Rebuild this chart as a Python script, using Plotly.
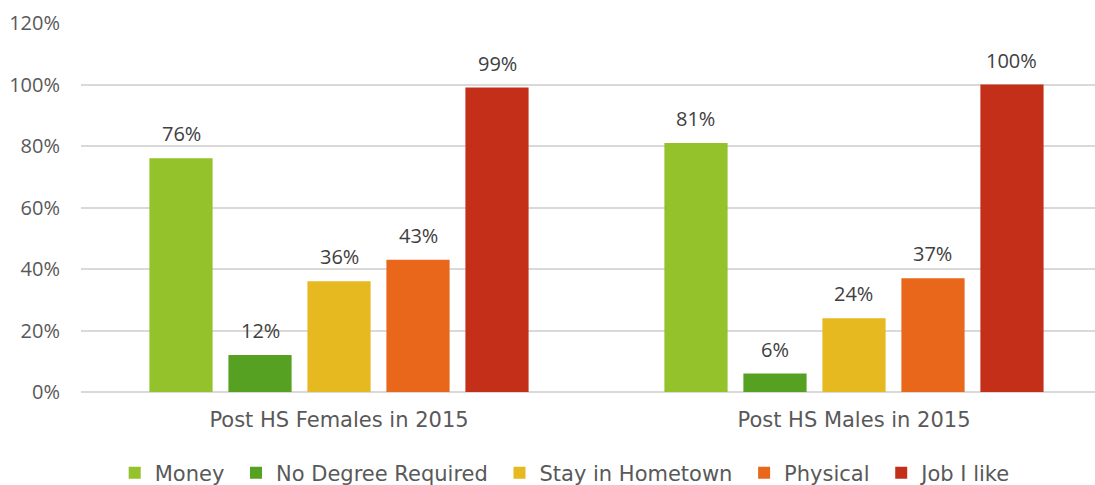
import plotly.graph_objects as go

categories = ["Post HS Females in 2015", "Post HS Males in 2015"]
series_names = ["Money", "No Degree Required", "Stay in Hometown", "Physical", "Job I like"]
money = [0.76, 0.81]
no_degree = [0.12, 0.06]
stay_home = [0.36, 0.24]
physical = [0.43, 0.37]
job_like = [0.99, 1.00]
series_values = [money, no_degree, stay_home, physical, job_like]
colors = ["#93C22A", "#56A022", "#E6B920", "#E8671A", "#C42F1A"]
y_ticks = [0, 0.2, 0.4, 0.6, 0.8, 1.0, 1.2]
y_tick_labels = ["0%", "20%", "40%", "60%", "80%", "100%", "120%"]

FONT = "Open Sans"
FONT2 = "DejaVu Sans"
BARGAP = 0.233
BARGROUPGAP = 0.2
xpos = list(range(len(categories)))
PAD = "\u00a0"

fig = go.Figure()
for k, (name, vals, col) in enumerate(zip(series_names, series_values, colors)):
    label = name + (PAD if k < len(series_names) - 1 else "")
    fig.add_trace(go.Bar(x=xpos, y=vals, name=label, marker=dict(color=col, line=dict(width=0))))

n = len(series_names)
slot = (1 - BARGAP) / n
annotations = []
for i, vals in enumerate(series_values):
    for g, v in enumerate(vals):
        annotations.append(dict(
            x=g + (i - (n - 1) / 2) * slot, y=v, xref="x", yref="y",
            text=f"{round(v*100)}%", showarrow=False, yanchor="bottom",
            yshift=9, font=dict(family=FONT, size=20, color="#404040")))

fig.update_layout(
    width=1095, height=485,
    margin=dict(l=81, r=0, t=23, b=93, autoexpand=False),
    paper_bgcolor="white", plot_bgcolor="white",
    barmode="group", bargap=BARGAP, bargroupgap=BARGROUPGAP,
    font=dict(family=FONT, size=20, color="#595959"),
    annotations=annotations,
    showlegend=True,
    legend=dict(orientation="h", x=0.478, xanchor="center", y=-0.2195, yanchor="middle",
                font=dict(family=FONT2, size=21, color="#595959"), itemwidth=30,
                traceorder="normal"),
    xaxis=dict(range=[-0.501, 1.468], tickvals=xpos, ticktext=categories,
               showgrid=False, zeroline=False, showline=False,
               ticks="outside", ticklen=9, tickcolor="rgba(0,0,0,0)",
               tickfont=dict(family=FONT2, size=21, color="#595959")),
    yaxis=dict(range=[0, 1.2], tickvals=y_ticks, ticktext=y_tick_labels,
               showgrid=True, gridcolor="#D9D9D9", gridwidth=1.5,
               zeroline=True, zerolinecolor="#D9D9D9", zerolinewidth=2,
               showline=False, ticklabelstandoff=20,
               tickfont=dict(family=FONT, size=20, color="#595959")),
)

fig.write_html("out.html", config={"displayModeBar": False},
               post_script="document.body.style.margin='0';document.body.style.overflow='hidden';")
